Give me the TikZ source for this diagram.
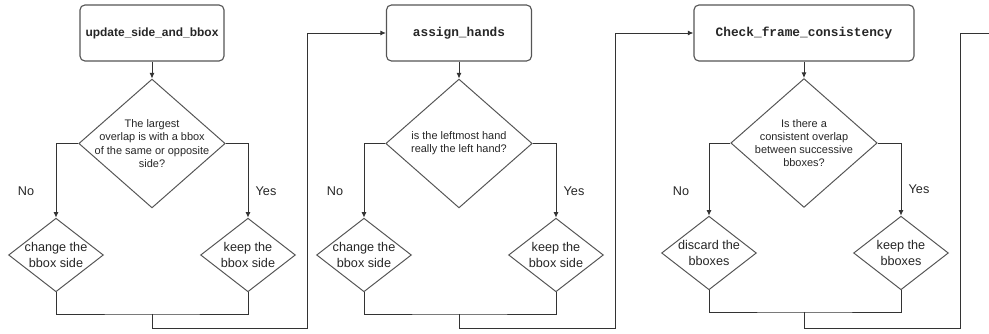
\documentclass[tikz,border=0pt]{standalone}
\usepackage{fontspec}
\setmainfont{Liberation Sans}
\setmonofont{Liberation Mono}
\usepackage{xcolor}
\usepackage{tikz}
\usetikzlibrary{shapes.geometric,arrows.meta}
\definecolor{FlowLine}{HTML}{333333}
\definecolor{FlowEdge}{HTML}{555555}
\definecolor{FlowText}{HTML}{262626}

\begin{document}
\begin{tikzpicture}[x=0.025cm,y=-0.025cm,
    line/.style={draw=FlowLine,line width=0.7pt},
    arr/.style={line,-{Latex[length=4pt,width=3.6pt]}},
    stagebox/.style={draw=FlowEdge,line width=0.8pt,rounded corners=3.5pt,minimum height=14mm,text=FlowText},
    bigdiam/.style={diamond,draw=FlowEdge,line width=0.7pt,minimum width=36.6mm,minimum height=32.2mm,inner sep=0pt},
    smalldiam/.style={diamond,draw=FlowEdge,line width=0.7pt,minimum width=23.7mm,minimum height=18.4mm,inner sep=0pt},
    qtext/.style={align=center,text=FlowText,font=\fontsize{7.8}{9.4}\selectfont},
    atext/.style={align=center,text=FlowText,font=\fontsize{9}{11}\selectfont},
    lbl/.style={text=FlowText,font=\fontsize{9}{11}\selectfont}]
        \useasboundingbox (0,0) rectangle (989,334);

        % first stage
        \node[stagebox,minimum width=36mm,font=\fontsize{8.5}{10}\selectfont\bfseries] (upd) at (152,33) {update\_side\_and\_bbox};
        \node[bigdiam] (q1) at (152,143.5) {};
        \node[qtext] at (q1) {The largest\\overlap is with a bbox\\of the same or opposite\\side?};
        \node[smalldiam] (chg1) at (56,255) {};
        \node[atext] at (chg1) {change the\\bbox side};
        \node[smalldiam] (keep1) at (248,255) {};
        \node[atext] at (keep1) {keep the\\bbox side};
        \node[lbl] (no1) at (26,191) {No};
        \node[lbl] (yes1) at (266,191) {Yes};
        \coordinate (j1) at (152,314);
        \coordinate (r1) at (307,328);
        \draw[arr] (upd) -- (q1);
        \draw[arr] (q1.west) -| (chg1.north);
        \draw[arr] (q1.east) -| (keep1.north);
        \draw[line] (chg1.south) |- (j1) -| (keep1.south);

        % second stage
        \node[stagebox,minimum width=36.25mm,font=\fontsize{9.1}{11}\selectfont\ttfamily\bfseries] (hands) at (459,33) {assign\_hands};
        \node[bigdiam] (q2) at (459,143.5) {};
        \node[qtext] at (q2) {is the leftmost hand\\really the left hand?};
        \node[smalldiam] (chg2) at (364,255) {};
        \node[atext] at (chg2) {change the\\bbox side};
        \node[smalldiam] (keep2) at (556,255) {};
        \node[atext] at (keep2) {keep the\\bbox side};
        \node[lbl] (no2) at (335,191) {No};
        \node[lbl] (yes2) at (574,191) {Yes};
        \coordinate (j2) at (459,314);
        \coordinate (r2) at (615,328);
        \draw[arr] (j1) |- (r1) |- (hands.west);
        \draw[arr] (hands) -- (q2);
        \draw[arr] (q2.west) -| (chg2.north);
        \draw[arr] (q2.east) -| (keep2.north);
        \draw[line] (chg2.south) |- (j2) -| (keep2.south);

        % third stage
        \node[stagebox,minimum width=55mm,font=\fontsize{9.1}{11}\selectfont\ttfamily\bfseries] (frame) at (804,33) {Check\_frame\_consistency};
        \node[bigdiam] (q3) at (804,143) {};
        \node[qtext] at (q3) {Is there a\\consistent overlap\\between successive\\bboxes?};
        \node[smalldiam] (drop3) at (709,253) {};
        \node[atext] at (drop3) {discard the\\bboxes};
        \node[smalldiam] (keep3) at (901,253) {};
        \node[atext] at (keep3) {keep the\\bboxes};
        \node[lbl] (no3) at (681,191) {No};
        \node[lbl] (yes3) at (919,189) {Yes};
        \coordinate (j3) at (804,312);
        \coordinate (r3) at (960,328);
        \coordinate (out3) at (989,33);
        \draw[arr] (j2) |- (r2) |- (frame.west);
        \draw[arr] (frame) -- (q3);
        \draw[arr] (q3.west) -| (drop3.north);
        \draw[arr] (q3.east) -| (keep3.north);
        \draw[line] (drop3.south) |- (j3) -| (keep3.south);
        \draw[line] (j3) |- (r3) |- (out3);
      \end{tikzpicture}
\end{document}
